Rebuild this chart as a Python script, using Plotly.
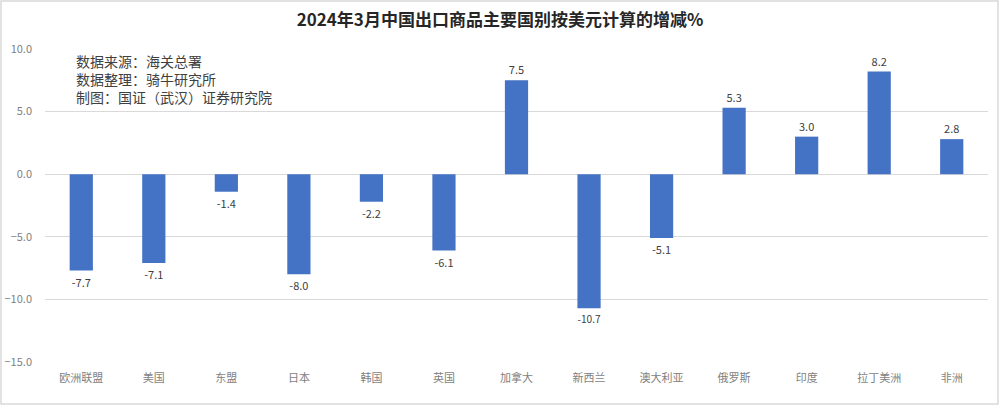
import plotly.graph_objects as go

categories = ["欧洲联盟", "美国", "东盟", "日本", "韩国", "英国", "加拿大", "新西兰", "澳大利亚", "俄罗斯", "印度", "拉丁美洲", "非洲"]
values = [-7.7, -7.1, -1.4, -8.0, -2.2, -6.1, 7.5, -10.7, -5.1, 5.3, 3.0, 8.2, 2.8]
title_text = "2024年3月中国出口商品主要国别按美元计算的增减%"
note_lines = ["数据来源：海关总署", "数据整理：骑牛研究所", "制图：国证（武汉）证券研究院"]

FONT = "Noto Sans CJK SC"

fig = go.Figure()
fig.add_trace(go.Bar(
    x=categories, y=values,
    marker=dict(color="#4472C4", line=dict(width=0)),
    text=[f"{v:.1f}" for v in values],
    textposition="outside",
    textangle=0,
    textfont=dict(size=11, color="#404040", family=FONT),
    cliponaxis=False,
    width=0.32,
))

fig.update_layout(
    width=1000, height=405,
    margin=dict(l=45, r=12, t=49, b=43, autoexpand=False),
    paper_bgcolor="white", plot_bgcolor="white",
    showlegend=False,
    font=dict(family=FONT),
    title=dict(text="<b>" + title_text + "</b>", x=0.5, xanchor="center", y=0.95, yanchor="middle",
               font=dict(size=17, color="#262626", family=FONT)),
    xaxis=dict(showgrid=False, showline=False, ticks="", ticklabelstandoff=8, automargin=False,
               tickfont=dict(size=11, color="#7F7F7F", family=FONT)),
    yaxis=dict(range=[-15, 10], dtick=5, tickformat=".1f", showgrid=True, automargin=False,
               gridcolor="#D9D9D9", gridwidth=1, zeroline=False, showline=False,
               ticks="", ticklabelstandoff=12,
               tickfont=dict(size=11, color="#7F7F7F", family=FONT)),
    annotations=[dict(text="<br>".join(note_lines), xref="paper", yref="paper",
                      x=0.031, y=1.0, xanchor="left", yanchor="top", align="left",
                      showarrow=False, font=dict(size=14, color="#404040", family=FONT))],
    shapes=[dict(type="rect", xref="paper", yref="paper",
                 x0=-44/943, x1=(998-45)/943, y0=-42/313, y1=361/313,
                 line=dict(color="#D9D9D9", width=1.5), fillcolor="rgba(0,0,0,0)", layer="below")],
)

fig.write_html("out.html")
